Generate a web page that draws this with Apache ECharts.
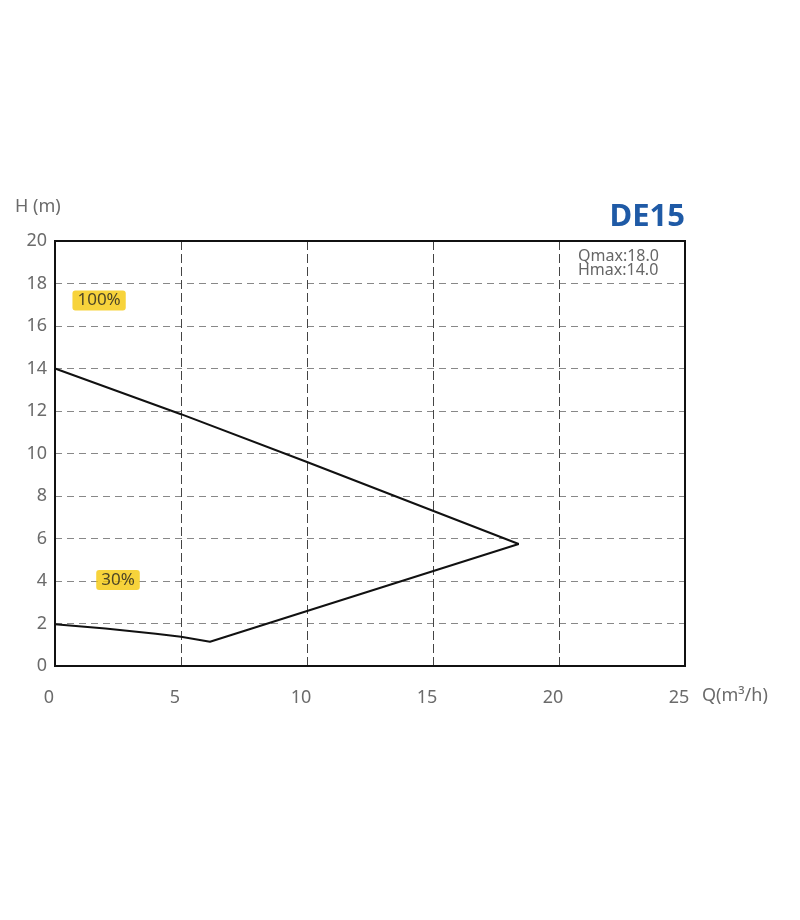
<!DOCTYPE html>
<html><head><meta charset="utf-8">
<script src="https://cdn.jsdelivr.net/npm/echarts@6/dist/echarts.min.js"></script>
<style>html,body{margin:0;padding:0;background:#fff}#c{width:800px;height:920px}</style>
</head><body><div id="c"></div>
<script>
const title = 'DE15';
const infoLines = ['Qmax:18.0', 'Hmax:14.0'];
const xTicks = [0, 5, 10, 15, 20, 25];
const yTicks = [0, 2, 4, 6, 8, 10, 12, 14, 16, 18, 20];
// curve outline (Q, H)
const curveQ = [0, 5, 10, 18.4, 6.15, 5, 4, 2, 0];
const curveH = [14, 11.85, 9.6, 5.74, 1.14, 1.38, 1.52, 1.76, 1.96];
const badgeText = ['100%', '30%'];
const badgeQ = [1.75, 2.5];
const badgeH = [17.2, 4.05];

const FONT = '"Noto Sans", sans-serif';
const chart = echarts.init(document.getElementById('c'));
chart.setOption({
  animation: false,
  backgroundColor: '#fff',
  grid: {left: 55, right: 115, top: 241, bottom: 254, show: true, borderColor: '#111', borderWidth: 2, z: 3},
  xAxis: {
    type: 'value', min: xTicks[0], max: xTicks[xTicks.length - 1], interval: 5,
    axisLine: {show: false}, axisTick: {show: false},
    axisLabel: {color: '#6b6b6b', fontSize: 18, margin: 23, fontFamily: FONT, padding: [0, 12, 0, 0]},
    splitLine: {show: true, lineStyle: {color: '#444', type: [9, 4], width: 1}}
  },
  yAxis: {
    type: 'value', min: yTicks[0], max: yTicks[yTicks.length - 1], interval: 2,
    axisLine: {show: false}, axisTick: {show: false},
    axisLabel: {color: '#6b6b6b', fontSize: 18, margin: 8, fontFamily: FONT},
    splitLine: {show: true, lineStyle: {color: '#888', type: [7, 5], width: 1}}
  },
  series: [
    {
      type: 'line', data: curveQ.map((q, i) => [q, curveH[i]]),
      symbol: 'none', lineStyle: {color: '#111', width: 2}, z: 4
    },
    {
      type: 'scatter', symbolSize: 0, z: 5,
      data: badgeText.map((t, i) => ({value: [badgeQ[i], badgeH[i]], name: t})),
      label: {
        show: true, position: 'inside', formatter: p => p.name,
        backgroundColor: '#F5C80A', borderRadius: 3, padding: [2, 5, 1, 5],
        color: '#222', fontSize: 17, fontFamily: FONT
      }
    }
  ],
  graphic: [
    {type: 'text', right: 115, top: 202, style: {text: title, fill: '#1f5aa6', font: 'bold 31px ' + FONT}},
    {type: 'text', left: 578, top: 248, style: {text: infoLines.join('\n'), fill: '#666', font: '16px ' + FONT, lineHeight: 14}},
    {type: 'text', left: 15, top: 198, style: {text: 'H (m)', fill: '#6b6b6b', font: '18px ' + FONT}},
    {type: 'text', left: 702, top: 687, style: {text: 'Q(m³/h)', fill: '#6b6b6b', font: '18px ' + FONT}}
  ]
});
</script></body></html>
